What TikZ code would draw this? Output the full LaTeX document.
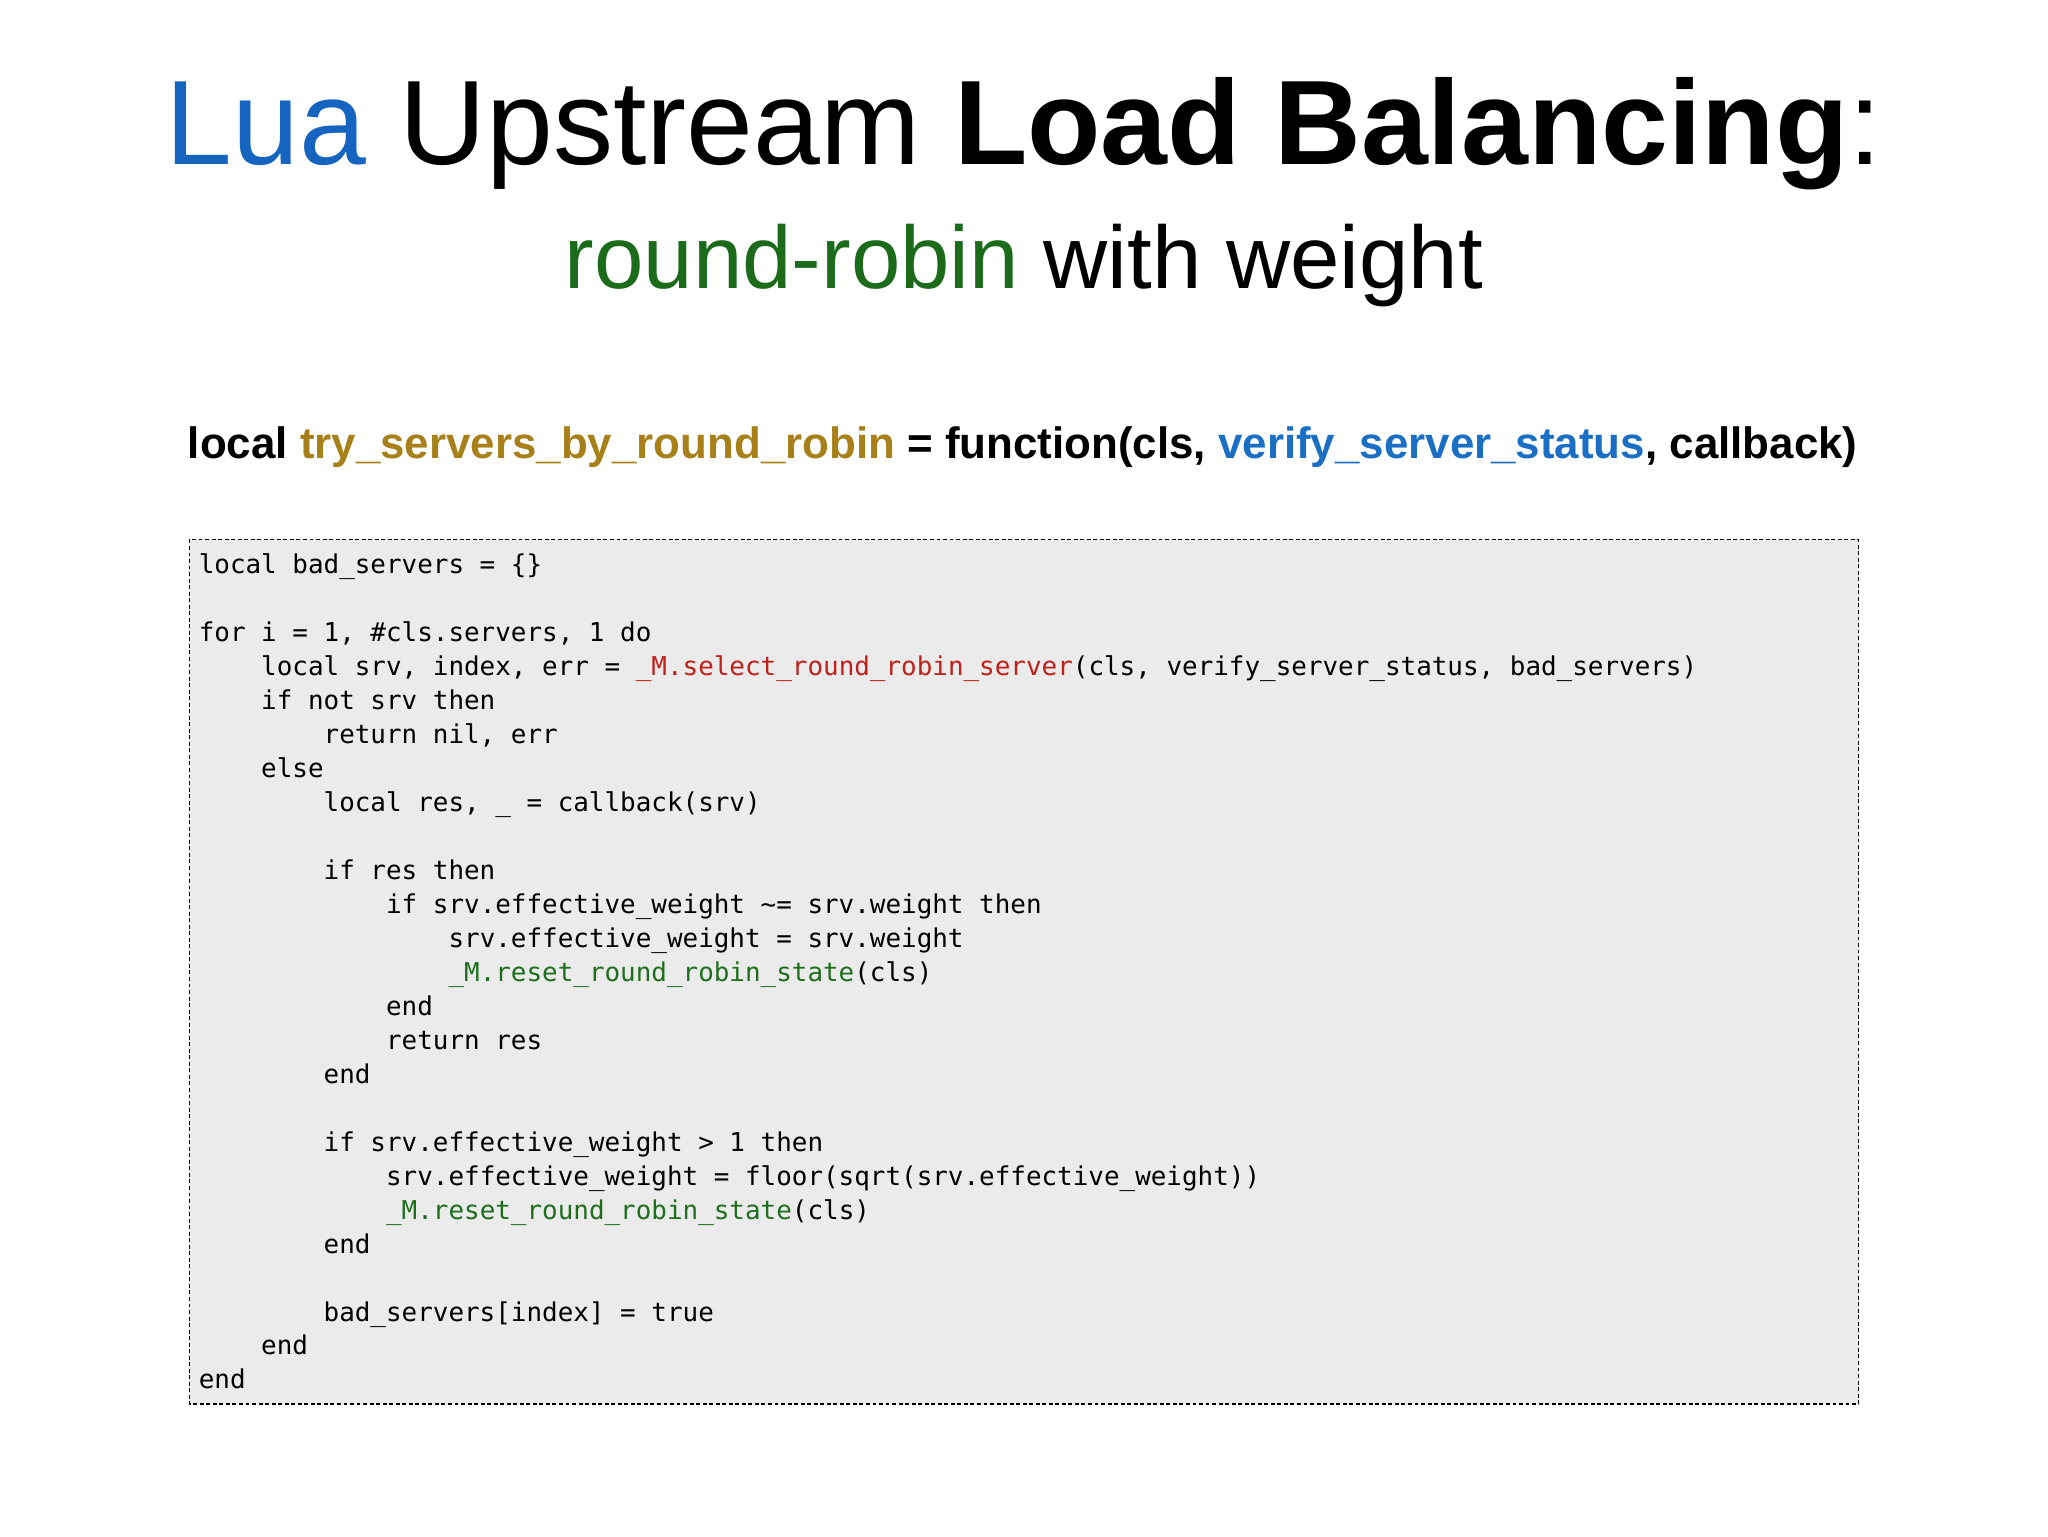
\documentclass[tikz,border=0pt]{standalone}
\usepackage{fontspec}
\setmainfont{Liberation Sans}
\setmonofont{DejaVu Sans Mono}
\definecolor{luablue}{HTML}{1565C0}
\definecolor{rrgreen}{HTML}{1B6B1B}
\definecolor{fnbrown}{HTML}{A8801A}
\definecolor{vblue}{HTML}{1A6FC4}
\definecolor{cred}{HTML}{C0201A}
\definecolor{cgreen}{HTML}{1E6E1E}
\definecolor{boxfill}{HTML}{EBEBEB}
\newcommand{\ind}[1]{\hspace*{#1\fontcharwd\font`0}}
\begin{document}
\begin{tikzpicture}[x=1pt,y=-1pt]
\useasboundingbox (0,0) rectangle (1568,1176);
\node[anchor=base,inner sep=0] (title) at (784,126) {\fontsize{92}{98}\selectfont\textcolor{luablue}{Lua} Upstream \textbf{Load Balancing}:};
\node[anchor=base,inner sep=0] (sub) at (784,221) {\fontsize{68}{74}\selectfont\textcolor{rrgreen}{round-robin} with weight};
\node[anchor=base,inner sep=0] (fn) at (783,351) {\fontsize{33.6}{38}\selectfont\bfseries local \textcolor{fnbrown}{try\_servers\_by\_round\_robin} = function(cls, \textcolor{vblue}{verify\_server\_status}, callback)};
\draw[fill=boxfill,line width=1.2pt,dash pattern=on 3pt off 2pt] (145,413) rectangle (1423,1075);
\node[anchor=north west,inner sep=0,align=left,font=\fontsize{19.85}{26}\selectfont\ttfamily] (code) at (152,424) {%
local bad\_servers = \{\}\\
\mbox{}\\
for i = 1, \#cls.servers, 1 do\\
\ind{4}local srv, index, err = \textcolor{cred}{\_M.select\_round\_robin\_server}(cls, verify\_server\_status, bad\_servers)\\
\ind{4}if not srv then\\
\ind{8}return nil, err\\
\ind{4}else\\
\ind{8}local res, \_ = callback(srv)\\
\mbox{}\\
\ind{8}if res then\\
\ind{12}if srv.effective\_weight \textasciitilde= srv.weight then\\
\ind{16}srv.effective\_weight = srv.weight\\
\ind{16}\textcolor{cgreen}{\_M.reset\_round\_robin\_state}(cls)\\
\ind{12}end\\
\ind{12}return res\\
\ind{8}end\\
\mbox{}\\
\ind{8}if srv.effective\_weight > 1 then\\
\ind{12}srv.effective\_weight = floor(sqrt(srv.effective\_weight))\\
\ind{12}\textcolor{cgreen}{\_M.reset\_round\_robin\_state}(cls)\\
\ind{8}end\\
\mbox{}\\
\ind{8}bad\_servers[index] = true\\
\ind{4}end\\
end};
\end{tikzpicture}
\end{document}
